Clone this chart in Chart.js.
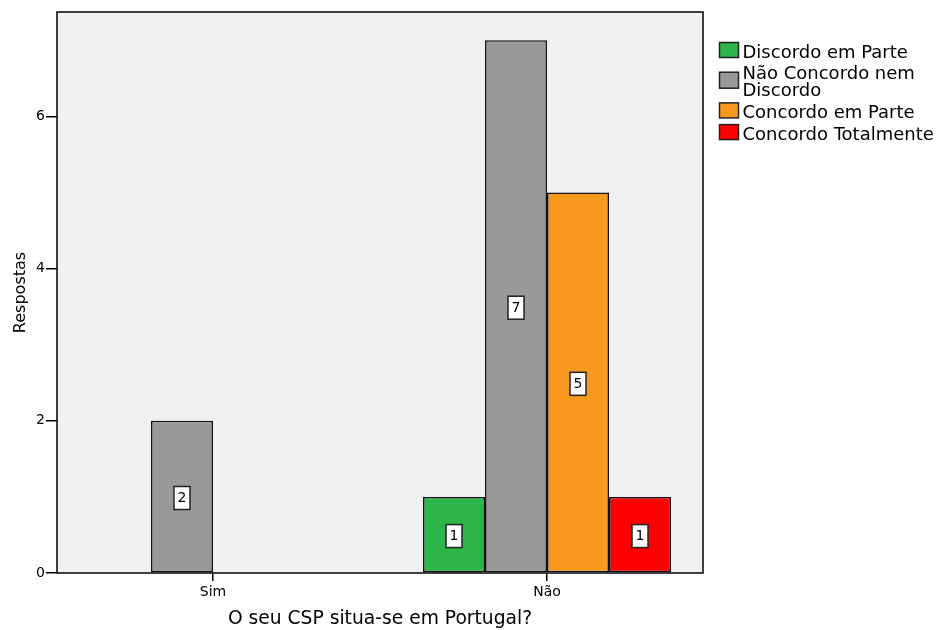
<!DOCTYPE html>
<html>
<head>
<meta charset="utf-8">
<script src="https://cdn.jsdelivr.net/npm/chart.js@4/dist/chart.umd.min.js"></script>
<style>
  html, body { margin: 0; padding: 0; background: #ffffff; }
  #wrap { width: 936px; height: 630px; }
</style>
</head>
<body>
<div id="wrap"><canvas id="chart" width="936" height="630"></canvas></div>
<script>
// Answers grouped by whether the CSP is located in Portugal
const categories = ['Sim', 'Não'];
const seriesNames = ['Discordo em Parte', 'Não Concordo nem Discordo', 'Concordo em Parte', 'Concordo Totalmente'];
const discordoEmParte = [null, 1];
const naoConcordoNemDiscordo = [2, 7];
const concordoEmParte = [null, 5];
const concordoTotalmente = [null, 1];
const seriesColors = ['#2eb64b', '#999999', '#f7991e', '#ff0000'];
const yTicks = [0, 2, 4, 6];
const yMax = 7.37;
const xTitle = 'O seu CSP situa-se em Portugal?';
const yTitle = 'Respostas';

const seriesValues = [discordoEmParte, naoConcordoNemDiscordo, concordoEmParte, concordoTotalmente];

const FONT = '"DejaVu Sans", "Liberation Sans", Arial, sans-serif';
Chart.defaults.font.family = FONT;
Chart.defaults.color = '#000000';

const datasets = seriesNames.map((name, s) => ({
  label: name,
  data: categories.map((c, i) => ({ x: i, y: seriesValues[s][i] })),
  backgroundColor: seriesColors[s],
  borderColor: '#111111',
  borderWidth: 1.6,
  borderSkipped: false,
  categoryPercentage: 0.7425,
  barPercentage: 1.0
}));

// Grey plot panel behind the bars and a full frame around it
const panelPlugin = {
  id: 'panel',
  beforeDraw(chart) {
    const { ctx, chartArea: a } = chart;
    ctx.save();
    ctx.fillStyle = '#f0f0f0';
    ctx.fillRect(a.left, a.top, a.right - a.left, a.bottom - a.top);
    ctx.restore();
  },
  afterDatasetsDraw(chart) {
    const { ctx, chartArea: a } = chart;
    ctx.save();
    ctx.strokeStyle = '#111111';
    ctx.lineWidth = 1.6;
    ctx.strokeRect(a.left, a.top, a.right - a.left, a.bottom - a.top);
    ctx.restore();
  }
};

// Boxed count in the middle of each bar
const valueLabelPlugin = {
  id: 'valueLabels',
  afterDatasetsDraw(chart) {
    const ctx = chart.ctx;
    ctx.save();
    ctx.font = '14px ' + FONT;
    ctx.textAlign = 'center';
    ctx.textBaseline = 'middle';
    chart.data.datasets.forEach((ds, di) => {
      const meta = chart.getDatasetMeta(di);
      meta.data.forEach((bar, i) => {
        const v = ds.data[i].y;
        if (v === null || v === undefined) return;
        const cx = bar.x;
        const cy = (bar.y + bar.base) / 2 + 1.5;
        const w = 16, h = 23;
        ctx.fillStyle = '#ffffff';
        ctx.fillRect(cx - w / 2, cy - h / 2, w, h);
        ctx.strokeStyle = '#222222';
        ctx.lineWidth = 1.5;
        ctx.strokeRect(cx - w / 2, cy - h / 2, w, h);
        ctx.fillStyle = '#000000';
        ctx.fillText(String(v), cx, cy + 0.5);
      });
    });
    ctx.restore();
  }
};

function wrapText(ctx, text, maxWidth) {
  const words = text.split(' ');
  const lines = [];
  let line = '';
  words.forEach(w => {
    const test = line ? line + ' ' + w : w;
    if (line && ctx.measureText(test).width > maxWidth) {
      lines.push(line);
      line = w;
    } else {
      line = test;
    }
  });
  if (line) lines.push(line);
  return lines;
}

// Legend to the right of the panel, long names wrap onto two lines
const sideLegendPlugin = {
  id: 'sideLegend',
  afterDraw(chart) {
    const { ctx, chartArea: a } = chart;
    ctx.save();
    ctx.font = '18px ' + FONT;
    ctx.textAlign = 'left';
    ctx.textBaseline = 'middle';
    const boxX = a.right + 16.5;
    const textX = a.right + 39.5;
    const maxW = 196;
    let y = 53;
    chart.data.datasets.forEach(ds => {
      const lines = wrapText(ctx, ds.label, maxW);
      const lastY = y + (lines.length - 1) * 17;
      const mid = (y + lastY) / 2 - 3;
      const bh = lines.length > 1 ? 16 : 15;
      ctx.fillStyle = ds.backgroundColor;
      ctx.fillRect(boxX, mid - bh / 2, 19, bh);
      ctx.strokeStyle = '#222222';
      ctx.lineWidth = 1.5;
      ctx.strokeRect(boxX, mid - bh / 2, 19, bh);
      ctx.fillStyle = '#000000';
      lines.forEach((ln, k) => ctx.fillText(ln, textX, y + k * 17));
      y = lastY + 21.7;
    });
    ctx.restore();
  }
};

new Chart(document.getElementById('chart'), {
  type: 'bar',
  data: { datasets },
  options: {
    responsive: false,
    animation: false,
    devicePixelRatio: 1,
    layout: { padding: { top: 12, right: 233, bottom: 0, left: 0 } },
    plugins: {
      legend: { display: false },
      tooltip: { enabled: false }
    },
    scales: {
      x: {
        type: 'linear',
        min: -0.467,
        max: 1.467,
        offset: false,
        bounds: 'data',
        afterBuildTicks(scale) {
          scale.ticks = categories.map((c, i) => ({ value: i }));
        },
        afterFit(scale) { scale.height = 57; },
        ticks: {
          callback: (v) => categories[v],
          font: { size: 14 },
          color: '#000000',
          padding: 3,
          maxRotation: 0,
          autoSkip: false
        },
        grid: {
          offset: false,
          drawOnChartArea: false,
          drawTicks: true,
          tickLength: 8,
          color: '#000000',
          lineWidth: 1.5
        },
        border: { display: false },
        title: {
          display: true,
          text: xTitle,
          font: { size: 18.7 },
          color: '#000000',
          padding: { top: 0, bottom: 0 }
        }
      },
      y: {
        min: 0,
        max: yMax,
        bounds: 'data',
        afterBuildTicks(scale) {
          scale.ticks = yTicks.map(v => ({ value: v }));
        },
        afterFit(scale) { scale.width = 57; },
        ticks: {
          font: { size: 14 },
          color: '#000000',
          padding: 1
        },
        grid: {
          offset: false,
          drawOnChartArea: false,
          drawTicks: true,
          tickLength: 11,
          color: '#000000',
          lineWidth: 1.5
        },
        border: { display: false },
        title: {
          display: true,
          text: yTitle,
          font: { size: 16 },
          color: '#000000',
          padding: { top: 11, bottom: 0 }
        }
      }
    }
  },
  plugins: [panelPlugin, valueLabelPlugin, sideLegendPlugin]
});
</script>
</body>
</html>
